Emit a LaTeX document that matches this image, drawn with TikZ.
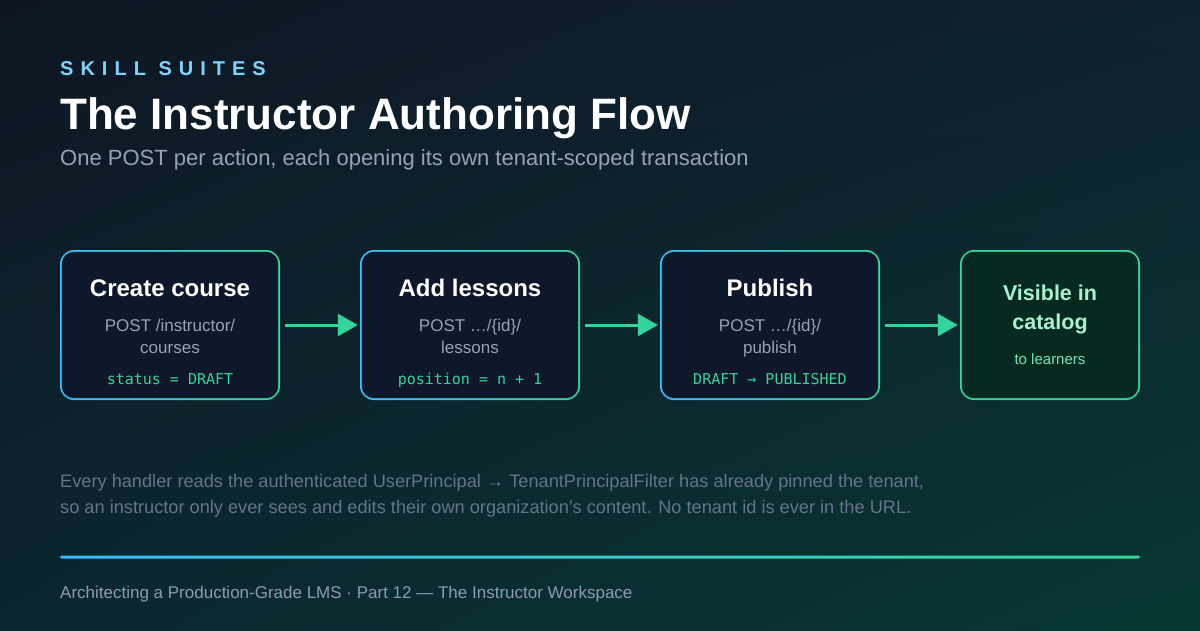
\documentclass[tikz,border=0pt]{standalone}
\usepackage{fontspec}
\setmainfont{Liberation Sans}
\newfontfamily\monof{DejaVu Sans Mono}
\usetikzlibrary{arrows.meta,shadings}
\definecolor{sky}{HTML}{38BDF8}
\definecolor{emer}{HTML}{34D399}
\definecolor{hdr}{HTML}{7DD3FC}
\definecolor{subt}{HTML}{94A3B8}
\definecolor{para}{HTML}{64748B}
\definecolor{foot}{HTML}{8C9BB0}
\definecolor{boxfill}{HTML}{0F172A}
\definecolor{gboxfill}{HTML}{062A22}
\definecolor{mint}{HTML}{A7F3D0}
\definecolor{mint2}{HTML}{6EE7B7}
\definecolor{bgtl}{HTML}{0E1623}
\definecolor{bgtr}{HTML}{0F2230}
\definecolor{bgbl}{HTML}{0B2630}
\definecolor{bgbr}{HTML}{083832}
\tikzset{
  x=1pt, y=-1pt,
  stepbox/.style={rounded corners=14pt, minimum width=220pt, minimum height=150pt, inner sep=0pt, left color=sky, right color=emer},
  endbox/.style={rounded corners=14pt, minimum width=180pt, minimum height=150pt, inner sep=0pt, fill=emer},
  btitle/.style={anchor=base, text=white, font=\bfseries\fontsize{24}{28}\selectfont},
  bsub/.style={anchor=base, text=subt, font=\fontsize{17}{20}\selectfont},
  bmono/.style={anchor=base, text=emer, font=\monof\fontsize{15}{18}\selectfont},
  flow/.style={draw=emer, line width=3pt, -{Triangle[length=20pt,width=22pt]}, shorten <=5pt, shorten >=2pt},
}
\begin{document}
\begin{tikzpicture}
\useasboundingbox (0,0) rectangle (1200,630);
\shade[upper left=bgtl, upper right=bgtr, lower left=bgbl, lower right=bgbr] (0,0) rectangle (1200,630);

% header
\node[anchor=base west, inner sep=0pt, text=hdr, font=\bfseries\fontsize{20}{24}\selectfont\addfontfeature{LetterSpace=35}] (kick) at (60,75) {SKILL SUITES};
\node[anchor=base west, inner sep=0pt, text=white, font=\bfseries\fontsize{44}{50}\selectfont] (title) at (60,129) {The Instructor Authoring Flow};
\node[anchor=base west, inner sep=0pt, text=subt, font=\fontsize{22}{26}\selectfont] (subtitle) at (60,165) {One POST per action, each opening its own tenant-scoped transaction};

% boxes
\foreach \n/\cx in {b1/170, b2/470, b3/770} {
  \node[stepbox] (\n) at (\cx,325) {};
  \fill[boxfill, rounded corners=12pt] ([xshift=2pt,yshift=-2pt]\n.north west) rectangle ([xshift=-2pt,yshift=2pt]\n.south east);
}
\node[endbox] (b4) at (1050,325) {};
\fill[gboxfill, rounded corners=12pt] ([xshift=2pt,yshift=-2pt]b4.north west) rectangle ([xshift=-2pt,yshift=2pt]b4.south east);

% box texts
\node[btitle] (t1) at (170,296) {Create course};
\node[bsub] (s1a) at (170,331) {POST /instructor/};
\node[bsub] (s1b) at (170,353) {courses};
\node[bmono] (m1) at (170,384) {status = DRAFT};

\node[btitle] (t2) at (470,296) {Add lessons};
\node[bsub] (s2a) at (470,331) {POST …/\{id\}/};
\node[bsub] (s2b) at (470,353) {lessons};
\node[bmono] (m2) at (470,384) {position = n + 1};

\node[btitle] (t3) at (770,296) {Publish};
\node[bsub] (s3a) at (770,331) {POST …/\{id\}/};
\node[bsub] (s3b) at (770,353) {publish};
\node[bmono] (m3) at (770,384) {DRAFT → PUBLISHED};

\node[anchor=base, text=mint, font=\bfseries\fontsize{21.5}{24}\selectfont] (t4a) at (1050,300) {Visible in};
\node[anchor=base, text=mint, font=\bfseries\fontsize{21.5}{24}\selectfont] (t4b) at (1050,329) {catalog};
\node[anchor=base, text=mint2, font=\fontsize{15}{18}\selectfont] (s4) at (1050,364) {to learners};

% arrows
\draw[flow] (b1.east) -- (b2.west);
\draw[flow] (b2.east) -- (b3.west);
\draw[flow] (b3.east) -- (b4.west);

% paragraph
\node[anchor=base west, inner sep=0pt, text=para, font=\fontsize{18.2}{20}\selectfont] (p1) at (60,487) {Every handler reads the authenticated UserPrincipal → TenantPrincipalFilter has already pinned the tenant,};
\node[anchor=base west, inner sep=0pt, text=para, font=\fontsize{18.2}{20}\selectfont] (p2) at (60,513) {so an instructor only ever sees and edits their own organization's content. No tenant id is ever in the URL.};

% rule
\shade[left color=sky, right color=emer, rounded corners=2pt] (60,555.5) rectangle (1140,558.5);

% footer
\node[anchor=base west, inner sep=0pt, text=foot, font=\fontsize{17}{20}\selectfont] (foot) at (60,598) {Architecting a Production-Grade LMS · Part 12 — The Instructor Workspace};
\end{tikzpicture}
\end{document}
